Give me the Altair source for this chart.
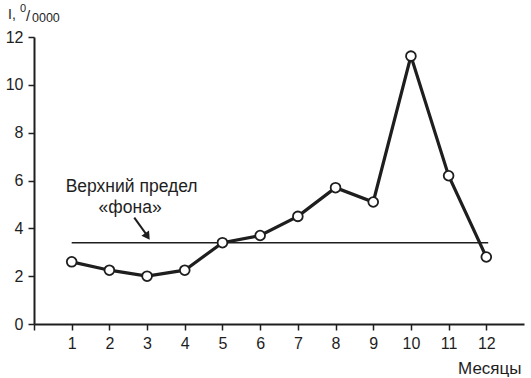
import altair as alt
import pandas as pd

months = [1, 2, 3, 4, 5, 6, 7, 8, 9, 10, 11, 12]
incidence = [2.6, 2.25, 2.0, 2.25, 3.4, 3.7, 4.5, 5.7, 5.1, 11.2, 6.2, 2.8]
threshold = 3.4
x_ticks = list(range(0, 13))
y_ticks = [0, 2, 4, 6, 8, 10, 12]

FONT = "Liberation Sans"
INK = "#1e1e1e"

df = pd.DataFrame({"month": months, "value": incidence})
thr = pd.DataFrame({"x": [1], "x2": [12.05], "y": [threshold]})
one = pd.DataFrame({"a": [0]})

xscale = alt.Scale(domain=[0, 13], nice=False, zero=False)
yscale = alt.Scale(domain=[0, 12], nice=False)

xaxis = alt.Axis(values=x_ticks, labelExpr="datum.value == 0 ? '' : datum.label",
                 title="Месяцы", titleAnchor="start", titleAlign="right",
                 titleBaseline="alphabetic",
                 titleX=487, titleY=49, titleFontWeight="normal",
                 titleFontSize=17, titleFont=FONT, titleColor=INK,
                 labelFont=FONT, labelFontSize=16, labelColor=INK, labelPadding=5,
                 tickSize=6, tickColor=INK, tickWidth=1.5,
                 domainColor=INK, domainWidth=2, grid=False)
yaxis = alt.Axis(values=y_ticks, title=None, labelFont=FONT, labelFontSize=16,
                 labelColor=INK, labelPadding=5, tickSize=6, tickColor=INK,
                 tickWidth=1.5, domainColor=INK, domainWidth=2, grid=False)

base = alt.Chart(df)

line = base.mark_line(color=INK, strokeWidth=3.2).encode(
    x=alt.X("month:Q", scale=xscale, axis=xaxis),
    y=alt.Y("value:Q", scale=yscale, axis=yaxis),
)
pts = base.mark_point(shape="circle", size=95, filled=True, fill="white",
                      stroke=INK, strokeWidth=1.8, opacity=1).encode(
    x="month:Q", y="value:Q")

thr_rule = alt.Chart(thr).mark_rule(color=INK, strokeWidth=1.5).encode(
    x="x:Q", x2="x2:Q", y="y:Q")

arrow = alt.Chart(one).mark_rule(color=INK, strokeWidth=2).encode(
    x=alt.datum(2.66), y=alt.datum(4.45), x2=alt.datum(2.98), y2=alt.datum(3.75))
head = alt.Chart(one).mark_point(
    shape="triangle-down", filled=True, fill=INK, size=85, angle=326, opacity=1,
    strokeWidth=0).encode(x=alt.datum(3.01), y=alt.datum(3.66))

lbl1 = alt.Chart(one).mark_text(
    text="Верхний предел", font=FONT, fontSize=17.5, color=INK,
    align="center", baseline="alphabetic").encode(x=alt.datum(2.59), y=alt.datum(5.52))
lbl2 = alt.Chart(one).mark_text(
    text="«фона»", font=FONT, fontSize=17.5, color=INK,
    align="center", baseline="alphabetic").encode(x=alt.datum(2.55), y=alt.datum(4.64))

t1 = alt.Chart(one).mark_text(
    text="I,", font=FONT, fontSize=14, color=INK, align="left",
    baseline="alphabetic").encode(x=alt.value(-26), y=alt.value(-18))
t2 = alt.Chart(one).mark_text(
    text="0", font=FONT, fontSize=11, color=INK, align="left",
    baseline="alphabetic").encode(x=alt.value(-14), y=alt.value(-25))
t3 = alt.Chart(one).mark_text(
    text="/", font=FONT, fontSize=15, color=INK, align="left",
    baseline="alphabetic").encode(x=alt.value(-8), y=alt.value(-16))
t4 = alt.Chart(one).mark_text(
    text="0000", font=FONT, fontSize=12.5, color=INK, align="left",
    baseline="alphabetic").encode(x=alt.value(-2), y=alt.value(-15))

chart = alt.layer(thr_rule, arrow, head, line, pts, lbl1, lbl2, t1, t2, t3, t4).properties(
    width=490, height=287,
    autosize=alt.AutoSizeParams(type="none"),
    padding={"left": 34, "top": 37, "right": 7, "bottom": 54},
    background="white",
).configure_view(stroke=None)

chart.save("out.html", embed_options={"renderer": "svg", "actions": False})
